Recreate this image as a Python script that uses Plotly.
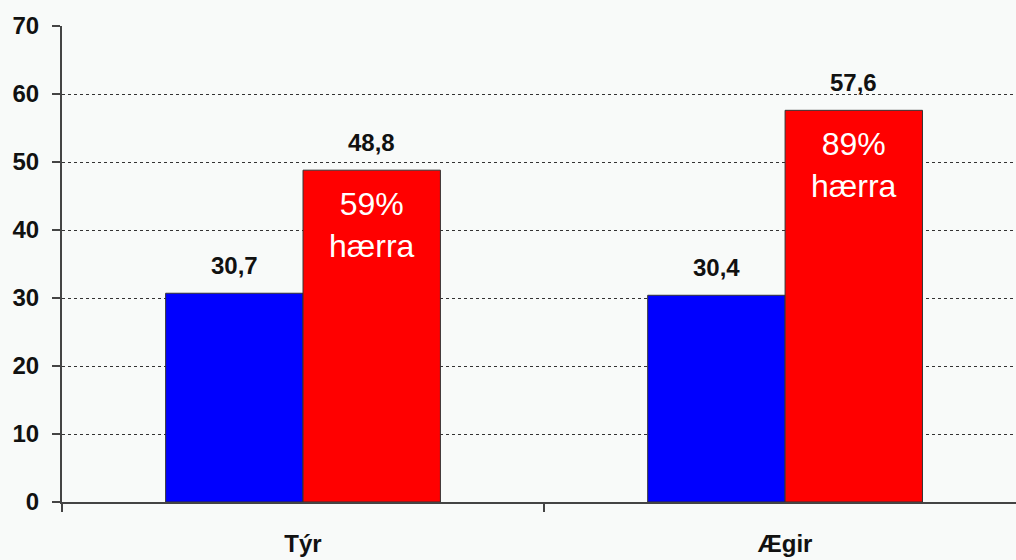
import plotly.graph_objects as go

categories = ["Týr", "Ægir"]
series_a = [30.7, 30.4]
series_b = [48.8, 57.6]
y_ticks = [0, 10, 20, 30, 40, 50, 60, 70]

BLUE = "#0000ff"
RED = "#ff0000"
BG = "#f8faf9"
bargap = 0.43
half = (1 - bargap) / 4  # offset of each bar center from category center

fig = go.Figure()
fig.add_trace(go.Bar(x=categories, y=series_a, marker=dict(color=BLUE, line=dict(color="#333", width=1))))
fig.add_trace(go.Bar(x=categories, y=series_b, marker=dict(color=RED, line=dict(color="#333", width=1))))

annotations = []
for i, cat in enumerate(categories):
    for val, off in ((series_a[i], -half), (series_b[i], half)):
        annotations.append(dict(
            x=i + off, y=val, xref="x", yref="y", text=f"{val:.1f}".replace(".", ","),
            showarrow=False, yanchor="bottom", yshift=12,
            font=dict(family="Arial, Liberation Sans", size=24, color="#111", weight="bold")))
    pct = round((series_b[i] / series_a[i] - 1) * 100)
    annotations.append(dict(
        x=i + half, y=series_b[i], xref="x", yref="y", text=f"{pct}%<br>hærra",
        showarrow=False, yanchor="top", yshift=-14,
        font=dict(family="Arial, Liberation Sans", size=32, color="white")))

fig.update_layout(
    width=1016, height=560,
    margin=dict(l=62, r=0, t=26, b=58),
    paper_bgcolor=BG, plot_bgcolor=BG,
    barmode="group", bargap=bargap, bargroupgap=0,
    showlegend=False,
    annotations=annotations,
    font=dict(family="Arial, Liberation Sans", size=24, color="#111"),
    xaxis=dict(
        range=[-0.5, 1.479], tickson="boundaries", ticks="outside", ticklen=8,
        tickcolor="#444", tickwidth=2, showline=True, linecolor="#444", linewidth=2,
        showgrid=False, ticklabelstandoff=19,
        tickfont=dict(size=24, weight="bold", color="#111"),
    ),
    yaxis=dict(
        range=[0, 70], tickvals=y_ticks, ticks="outside", ticklen=8,
        tickcolor="#444", tickwidth=2, showline=True, linecolor="#444", linewidth=2,
        showgrid=True, gridcolor="#333", griddash="dot", gridwidth=1,
        zeroline=False, ticklabelstandoff=8,
        tickfont=dict(size=24, weight="bold", color="#111"),
    ),
)

fig.write_html(
    "out.html",
    config={"displayModeBar": False},
    post_script="document.body.style.margin='0';document.body.style.overflow='hidden';",
)
